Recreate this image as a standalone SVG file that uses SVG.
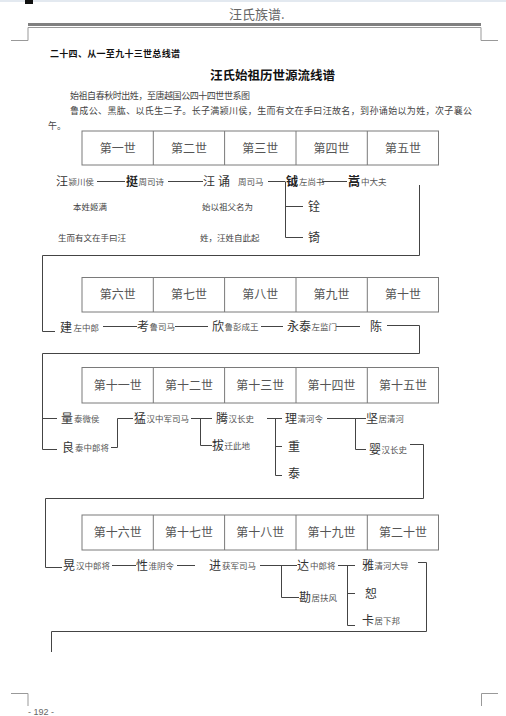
<svg xmlns="http://www.w3.org/2000/svg" width="506" height="716" viewBox="0 0 506 716">
<style>
text{font-family:"Noto Sans CJK SC","Noto Sans",sans-serif;}
.hd{font-size:13px;fill:#666;}
.sec{font-size:9px;font-weight:bold;fill:#111;}
.ttl{font-size:12.5px;font-weight:bold;fill:#111;}
.p{font-size:9px;fill:#444;}
.th{font-size:12px;fill:#555;text-anchor:middle;}
.n{font-size:12px;fill:#333;}
.nb{font-size:12px;fill:#222;font-weight:bold;}
.s{font-size:8.5px;fill:#555;}
.note{font-size:8.5px;fill:#444;}
.ft{font-size:9px;fill:#666;font-family:"Liberation Sans",sans-serif;}
.tb{fill:none;stroke:#7a7a7a;stroke-width:1;}
.ln{fill:none;stroke:#444;stroke-width:1;}
.pg{fill:none;stroke:#999;stroke-width:1;}
</style>

<!-- page chrome -->
<g id="page">
<rect x="0" y="0" width="506" height="2" fill="#e3e9f0"/>
<rect x="25" y="0" width="8" height="4" fill="#111"/>
<text class="hd" x="229" y="19">汪氏族谱.</text>
<rect x="28" y="23" width="453" height="3" fill="#808080"/>
<line class="pg" x1="28" y1="27.5" x2="481" y2="27.5"/>
<polyline class="pg" points="28,27.5 28,40.5 11,40.5"/>
<polyline class="pg" points="481,27.5 481,40.5 498,40.5"/>
<polyline class="pg" points="11,693.5 28,693.5 28,706"/>
<polyline class="pg" points="498,693.5 481.5,693.5 481.5,706"/>
<text class="ft" x="28" y="715">- 192 -</text>
</g>

<g id="heading">
<text class="sec" x="50" y="56.5" textLength="130">二十四、从一至九十三世总线谱</text>
<text class="ttl" x="210" y="80" textLength="125">汪氏始祖历世源流线谱</text>
<text class="p" x="70" y="98.5" textLength="180">始祖自春秋时出姓，至唐越国公四十四世世系图</text>
<text class="p" x="70" y="113.5" textLength="402">鲁成公、黑肱、以氏生二子。长子满颍川侯，生而有文在手曰汪故名，到孙诵始以为姓，次子襄公</text>
<text class="p" x="48" y="128.5">午。</text>
</g>

<!-- generation tables -->
<g id="table1">
<rect class="tb" x="82" y="131" width="356.5" height="34"/>
<line class="tb" x1="153.3" y1="131" x2="153.3" y2="165"/>
<line class="tb" x1="224.6" y1="131" x2="224.6" y2="165"/>
<line class="tb" x1="296" y1="131" x2="296" y2="165"/>
<line class="tb" x1="367.3" y1="131" x2="367.3" y2="165"/>
<text class="th" x="117.7" y="152.5">第一世</text>
<text class="th" x="189" y="152.5">第二世</text>
<text class="th" x="260.3" y="152.5">第三世</text>
<text class="th" x="331.6" y="152.5">第四世</text>
<text class="th" x="403" y="152.5">第五世</text>
</g>
<g id="table2">
<rect class="tb" x="82" y="277.5" width="356.5" height="34.5"/>
<line class="tb" x1="153.3" y1="277.5" x2="153.3" y2="312"/>
<line class="tb" x1="224.6" y1="277.5" x2="224.6" y2="312"/>
<line class="tb" x1="296" y1="277.5" x2="296" y2="312"/>
<line class="tb" x1="367.3" y1="277.5" x2="367.3" y2="312"/>
<text class="th" x="117.7" y="299">第六世</text>
<text class="th" x="189" y="299">第七世</text>
<text class="th" x="260.3" y="299">第八世</text>
<text class="th" x="331.6" y="299">第九世</text>
<text class="th" x="403" y="299">第十世</text>
</g>
<g id="table3">
<rect class="tb" x="82" y="367.5" width="356.5" height="35.5"/>
<line class="tb" x1="153.3" y1="367.5" x2="153.3" y2="403"/>
<line class="tb" x1="224.6" y1="367.5" x2="224.6" y2="403"/>
<line class="tb" x1="296" y1="367.5" x2="296" y2="403"/>
<line class="tb" x1="367.3" y1="367.5" x2="367.3" y2="403"/>
<text class="th" x="117.7" y="389.5">第十一世</text>
<text class="th" x="189" y="389.5">第十二世</text>
<text class="th" x="260.3" y="389.5">第十三世</text>
<text class="th" x="331.6" y="389.5">第十四世</text>
<text class="th" x="403" y="389.5">第十五世</text>
</g>
<g id="table4">
<rect class="tb" x="82" y="515" width="356.5" height="35"/>
<line class="tb" x1="153.3" y1="515" x2="153.3" y2="550"/>
<line class="tb" x1="224.6" y1="515" x2="224.6" y2="550"/>
<line class="tb" x1="296" y1="515" x2="296" y2="550"/>
<line class="tb" x1="367.3" y1="515" x2="367.3" y2="550"/>
<text class="th" x="117.7" y="537">第十六世</text>
<text class="th" x="189" y="537">第十七世</text>
<text class="th" x="260.3" y="537">第十八世</text>
<text class="th" x="331.6" y="537">第十九世</text>
<text class="th" x="403" y="537">第二十世</text>
</g>

<!-- connectors -->
<g id="connectors">
<!-- row 1 -->
<line class="ln" x1="97" y1="181.5" x2="125" y2="181.5"/>
<line class="ln" x1="168" y1="181.5" x2="203" y2="181.5"/>
<line class="ln" x1="268" y1="181.5" x2="285" y2="181.5"/>
<line class="ln" x1="322" y1="181.5" x2="347" y2="181.5"/>
<polyline class="ln" points="285.5,181.5 285.5,237.5 303,237.5"/>
<line class="ln" x1="285.5" y1="206.5" x2="303" y2="206.5"/>
<polyline class="ln" points="419.5,185 419.5,255.5 42.5,255.5 42.5,331.5 55,331.5"/>
<!-- row 2 -->
<line class="ln" x1="103" y1="326.5" x2="137" y2="326.5"/>
<line class="ln" x1="175" y1="326.5" x2="208" y2="326.5"/>
<line class="ln" x1="261" y1="326.5" x2="283" y2="326.5"/>
<line class="ln" x1="336" y1="326.5" x2="360" y2="326.5"/>
<polyline class="ln" points="387,325.5 419.5,325.5 419.5,353.5 42.5,353.5 42.5,449.5 57,449.5"/>
<!-- row 3 -->
<line class="ln" x1="42.5" y1="418.5" x2="57" y2="418.5"/>
<polyline class="ln" points="111,447.5 117.5,447.5 117.5,418.5 133,418.5"/>
<line class="ln" x1="191" y1="418.5" x2="212" y2="418.5"/>
<polyline class="ln" points="200.5,418.5 200.5,445.5 212,445.5"/>
<line class="ln" x1="267" y1="418.5" x2="282" y2="418.5"/>
<polyline class="ln" points="275.5,418.5 275.5,475.5 282,475.5"/>
<line class="ln" x1="275.5" y1="446.5" x2="282" y2="446.5"/>
<line class="ln" x1="327" y1="418.5" x2="366" y2="418.5"/>
<polyline class="ln" points="355.5,418.5 355.5,449.5 366,449.5"/>
<polyline class="ln" points="410,444.5 423.5,444.5 423.5,498.5 45.5,498.5 45.5,567.5 62,567.5"/>
<!-- row 4 -->
<line class="ln" x1="112" y1="565.5" x2="136" y2="565.5"/>
<line class="ln" x1="177" y1="565.5" x2="195" y2="565.5"/>
<line class="ln" x1="260" y1="565.5" x2="297" y2="565.5"/>
<polyline class="ln" points="281.5,565.5 281.5,597.5 299,597.5"/>
<line class="ln" x1="338" y1="565.5" x2="355" y2="565.5"/>
<polyline class="ln" points="347.5,565.5 347.5,625.5 355,625.5"/>
<line class="ln" x1="347.5" y1="593.5" x2="355" y2="593.5"/>
<polyline class="ln" points="418,562.5 426.5,562.5 426.5,631.5 51.5,631.5 51.5,652"/>
</g>

<!-- row 1 persons -->
<g id="wang-man"><text class="n" x="56" y="186">汪</text><text class="s" x="68.5" y="184.5">颍川侯</text></g>
<g id="ting"><text class="nb" x="126" y="186">挺</text><text class="s" x="138.5" y="184.5">周司诗</text></g>
<g id="wang-song"><text class="n" x="203" y="186">汪</text><text class="n" x="218" y="186">诵</text><text class="s" x="238" y="184.5">周司马</text></g>
<g id="yue"><text class="nb" x="286" y="186">钺</text><text class="s" x="299" y="184.5">左尚书</text></g>
<g id="song"><text class="nb" x="348" y="186">嵩</text><text class="s" x="361" y="184.5">中大夫</text></g>
<g id="quan"><text class="n" x="308" y="211">铨</text></g>
<g id="qi"><text class="n" x="308" y="242">锜</text></g>
<g id="notes1">
<text class="note" x="73" y="209.5">本姓姬满</text>
<text class="note" x="58" y="240.5">生而有文在手曰汪</text>
<text class="note" x="202" y="209.5">始以祖父名为</text>
<text class="note" x="200" y="240.5">姓，汪姓自此起</text>
</g>

<!-- row 2 persons -->
<g id="jian"><text class="n" x="60" y="332">建</text><text class="s" x="73.5" y="331">左中郎</text></g>
<g id="kao"><text class="n" x="137" y="331">考</text><text class="s" x="149.5" y="330">鲁司马</text></g>
<g id="xin"><text class="n" x="212" y="331">欣</text><text class="s" x="224.5" y="330">鲁彭成王</text></g>
<g id="yongtai"><text class="n" x="287" y="331">永泰</text><text class="s" x="311.5" y="330">左监门</text></g>
<g id="chen"><text class="n" x="370" y="331">陈</text></g>

<!-- row 3 persons -->
<g id="liang-a"><text class="n" x="61" y="423">量</text><text class="s" x="74" y="421.5">泰微侯</text></g>
<g id="liang-b"><text class="n" x="62" y="452">良</text><text class="s" x="75" y="450.5">泰中郎将</text></g>
<g id="meng"><text class="n" x="134" y="423">猛</text><text class="s" x="146.5" y="421.5">汉中军司马</text></g>
<g id="teng"><text class="n" x="216" y="423">腾</text><text class="s" x="228.5" y="421.5">汉长史</text></g>
<g id="ba"><text class="n" x="212" y="450">拔</text><text class="s" x="224.5" y="448.5">迁此地</text></g>
<g id="li"><text class="n" x="285" y="423">理</text><text class="s" x="297.5" y="421.5">清河令</text></g>
<g id="zhong"><text class="n" x="288" y="451">重</text></g>
<g id="tai"><text class="n" x="288" y="478">泰</text></g>
<g id="jian2"><text class="n" x="366" y="423">坚</text><text class="s" x="378.5" y="421.5">居清河</text></g>
<g id="ying"><text class="n" x="369" y="454">婴</text><text class="s" x="381.5" y="452.5">汉长史</text></g>

<!-- row 4 persons -->
<g id="huang"><text class="n" x="63" y="570">晃</text><text class="s" x="76" y="569">汉中郎将</text></g>
<g id="xing"><text class="n" x="136" y="570">性</text><text class="s" x="148.5" y="569">淮阴令</text></g>
<g id="jin"><text class="n" x="209" y="570">进</text><text class="s" x="222" y="569">获军司马</text></g>
<g id="da"><text class="n" x="297" y="570">达</text><text class="s" x="310" y="569">中郎将</text></g>
<g id="kan"><text class="n" x="299" y="602">勘</text><text class="s" x="311.5" y="600.5">居扶风</text></g>
<g id="ya"><text class="n" x="362" y="570">雅</text><text class="s" x="374.5" y="569">清河大导</text></g>
<g id="shu"><text class="n" x="365" y="598">恕</text></g>
<g id="ka"><text class="n" x="362" y="625">卡</text><text class="s" x="374.5" y="624">居下邦</text></g>
</svg>
